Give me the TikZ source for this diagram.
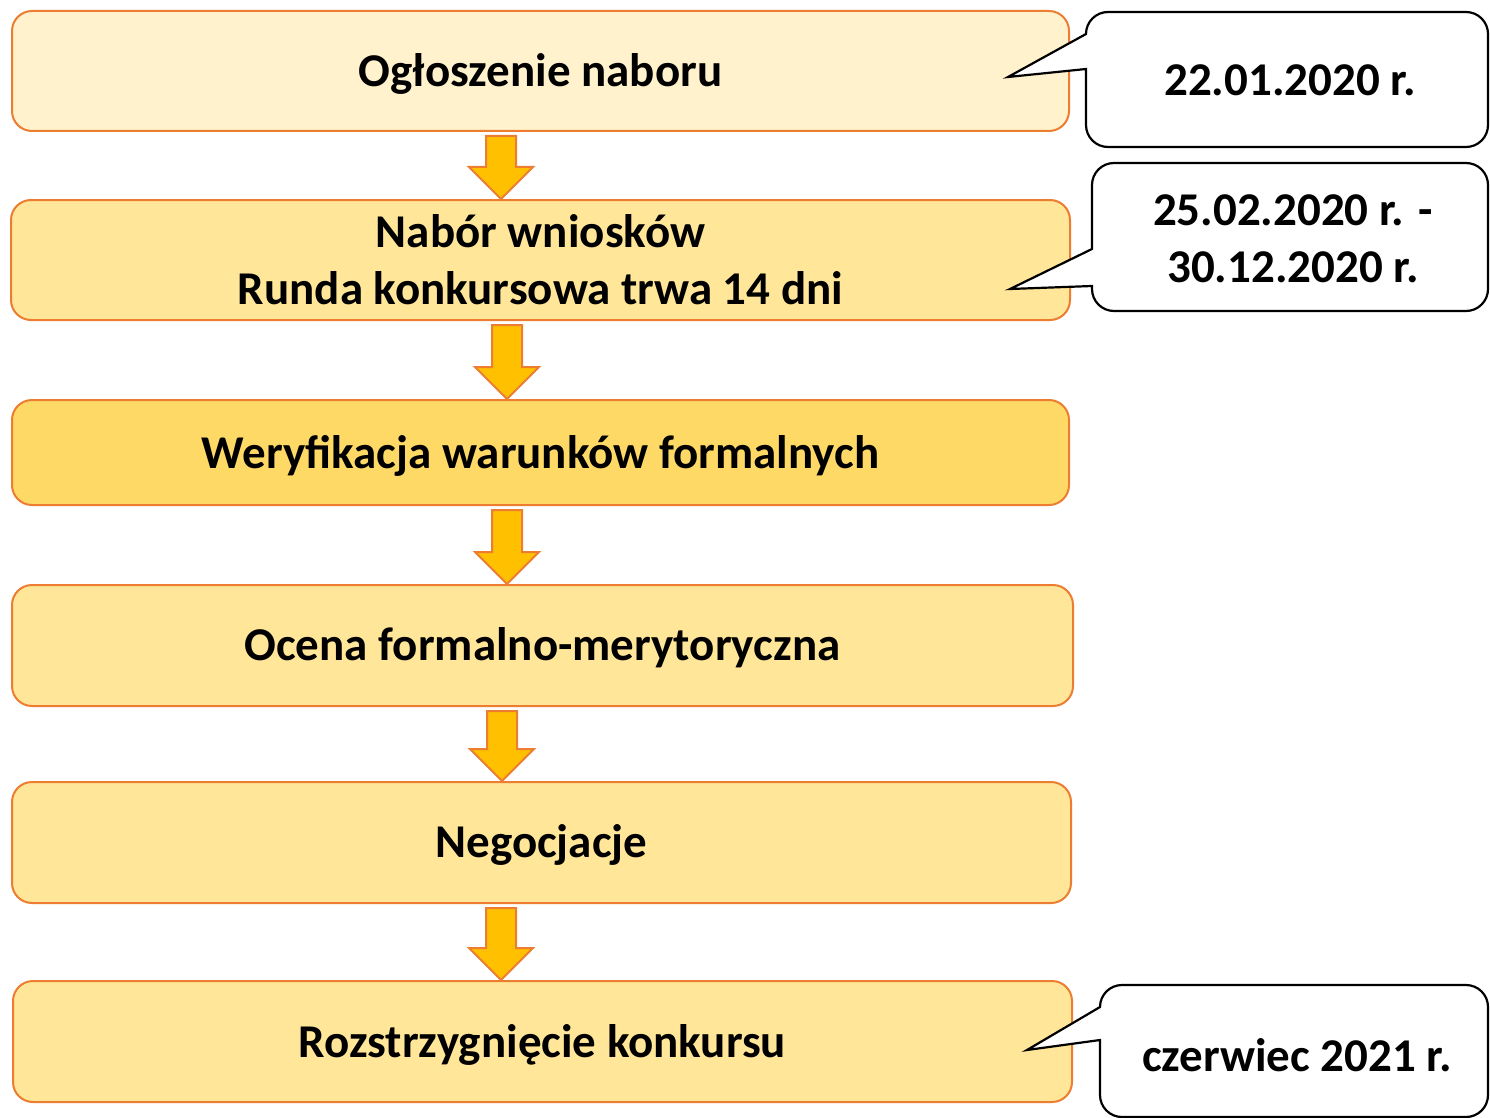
\documentclass[tikz,border=0pt]{standalone}
\usepackage{fontspec}
\setmainfont{Carlito}
\usetikzlibrary{calc}
\definecolor{boxedge}{HTML}{ED7D31}
\definecolor{fillA}{HTML}{FFF2CC}
\definecolor{fillB}{HTML}{FFE699}
\definecolor{fillC}{HTML}{FFD966}
\definecolor{arrowfill}{HTML}{FFC000}
\tikzset{
  stagebox/.style={draw=boxedge, line width=2pt, rounded corners=20pt, align=center,
    font=\fontsize{47}{57}\selectfont\bfseries, inner sep=0pt},
  lowtext/.style={text depth=2pt},
  barrow/.style={draw=boxedge, line width=2pt, fill=arrowfill, line join=miter},
  callout/.style={draw=black, line width=2.2pt, fill=white, line join=miter},
  calltext/.style={align=center, font=\fontsize{47}{57}\selectfont\bfseries, inner sep=0pt}
}
\newcommand\blockarr[3]{%
  \path[barrow] let \p1=(#2.south), \p2=(#3.north) in
    ({#1pt-15pt},{\y1-4pt}) -- ({#1pt+15pt},{\y1-4pt}) -- ({#1pt+15pt},{\y2+32pt})
    -- ({#1pt+32pt},{\y2+32pt}) -- ({#1pt},{\y2}) -- ({#1pt-32pt},{\y2+32pt})
    -- ({#1pt-15pt},{\y2+32pt}) -- cycle;}
% #1 left, #2 top, #3 right, #4 bottom, #5 base top y, #6 base bottom y, #7 tip x, #8 tip y
\newcommand\calloutshape[8]{%
  \path[callout] (#1,#6) -- (#7,#8) -- (#1,#5) -- (#1,{#2+22})
    .. controls (#1,{#2+9.85}) and ({#1+9.85},#2) .. ({#1+22},#2)
    -- ({#3-22},#2)
    .. controls ({#3-9.85},#2) and (#3,{#2+9.85}) .. (#3,{#2+22})
    -- (#3,{#4-22})
    .. controls (#3,{#4-9.85}) and ({#3-9.85},#4) .. ({#3-22},#4)
    -- ({#1+22},#4)
    .. controls ({#1+9.85},#4) and (#1,{#4-9.85}) .. (#1,{#4-22})
    -- cycle;}
\begin{document}
\begin{tikzpicture}[x=1pt,y=-1pt]
\useasboundingbox (0,0) rectangle (1490,1118);
\clip (0,0) rectangle (1490,1118);
\fill[white] (0,0) rectangle (1490,1118);

% stage boxes
\node[stagebox, lowtext, fill=fillA, minimum width=1057pt, minimum height=120pt] (b1) at (540.5,71) {Ogłoszenie naboru};
\node[stagebox, fill=fillB, minimum width=1059pt, minimum height=120pt] (b2) at (540.5,260) {Nabór wniosków\\Runda konkursowa trwa 14 dni};
\node[stagebox, lowtext, fill=fillC, minimum width=1057pt, minimum height=105pt] (b3) at (540.5,452.5) {Weryfikacja warunków formalnych};
\node[stagebox, lowtext, fill=fillB, minimum width=1061pt, minimum height=121pt] (b4) at (542.5,645.5) {Ocena formalno-merytoryczna};
\node[stagebox, lowtext, fill=fillB, minimum width=1059pt, minimum height=121pt] (b5) at (541.5,842.5) {Negocjacje};
\node[stagebox, lowtext, fill=fillB, minimum width=1059pt, minimum height=121pt] (b6) at (542.5,1041.5) {Rozstrzygnięcie konkursu};

% block arrows
\blockarr{501}{b1}{b2}
\blockarr{507}{b2}{b3}
\blockarr{507}{b3}{b4}
\blockarr{502}{b4}{b5}
\blockarr{501}{b5}{b6}

% callouts
\calloutshape{1086}{12}{1488}{147}{34}{69}{1008}{77}
\node[calltext] (c1) at (1290,80) {22.01.2020 r.};
\calloutshape{1092}{163}{1488}{311}{249}{286}{1010}{289}
\node[calltext] (c2) at (1293,239) {25.02.2020 r. -\\30.12.2020 r.};
\calloutshape{1100}{985}{1488}{1117}{1007}{1040}{1027}{1050}
\node[calltext] (c3) at (1297,1055) {czerwiec 2021 r.};
\end{tikzpicture}
\end{document}
